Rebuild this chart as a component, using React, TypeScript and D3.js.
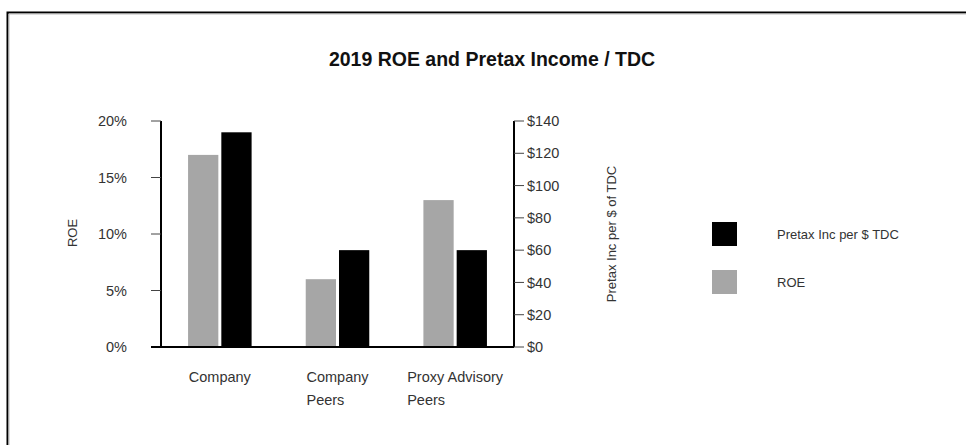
import React, { useEffect, useRef } from "react";
import * as d3 from "d3";

const categories = ["Company", "Company\nPeers", "Proxy Advisory\nPeers"];
const roeValues = [0.17, 0.06, 0.13];
const pretaxValues = [133, 60, 60];
const roeTicks = [0, 0.05, 0.1, 0.15, 0.2];
const pretaxTicks = [0, 20, 40, 60, 80, 100, 120, 140];
const legendItems = [
  { label: "Pretax Inc per $ TDC", color: "#000000" },
  { label: "ROE", color: "#a6a6a6" },
];

const W = 966;
const H = 445;
const FONT = "'Liberation Sans Narrow', 'Arial Narrow', 'Liberation Sans', Arial, sans-serif";

export default function App() {
  const ref = useRef<SVGSVGElement | null>(null);

  useEffect(() => {
    const svg = d3.select(ref.current);
    svg.selectAll("*").remove();

    const left = 161, right = 514, top = 121, bottom = 347;

    // frame
    svg.append("path")
      .attr("d", `M${W + 5},12.5 H7.5 V${H + 5}`)
      .attr("fill", "none").attr("stroke", "#000").attr("stroke-width", 2);
    svg.append("path")
      .attr("d", `M${W + 5},14 H9 V${H + 5}`)
      .attr("fill", "none").attr("stroke", "#bbb").attr("stroke-width", 1);

    svg.append("text")
      .attr("x", 492).attr("y", 66)
      .attr("text-anchor", "middle")
      .attr("font-family", FONT).attr("font-weight", "bold").attr("font-size", 19.5)
      .attr("fill", "#111")
      .text("2019 ROE and Pretax Income / TDC");

    const x0 = d3.scaleBand<string>().domain(categories).range([left, right]).paddingInner(0.46).paddingOuter(0.23);
    const x1 = d3.scaleBand<string>().domain(["roe", "pretax"]).range([0, x0.bandwidth()]).paddingInner(0.09);
    const yL = d3.scaleLinear().domain([0, 0.2]).range([bottom, top]);
    const yR = d3.scaleLinear().domain([0, 140]).range([bottom, top]);

    const g = svg.append("g");
    categories.forEach((c, i) => {
      g.append("rect")
        .attr("x", x0(c)! + x1("roe")!).attr("width", x1.bandwidth())
        .attr("y", yL(roeValues[i])).attr("height", bottom - yL(roeValues[i]))
        .attr("fill", "#a6a6a6");
      g.append("rect")
        .attr("x", x0(c)! + x1("pretax")!).attr("width", x1.bandwidth())
        .attr("y", yR(pretaxValues[i])).attr("height", bottom - yR(pretaxValues[i]))
        .attr("fill", "#000");
    });

    // left axis
    const la = svg.append("g");
    la.append("line").attr("x1", left).attr("x2", left).attr("y1", top).attr("y2", bottom)
      .attr("stroke", "#000").attr("stroke-width", 2);
    roeTicks.forEach((t) => {
      la.append("line").attr("x1", left - 10).attr("x2", left).attr("y1", yL(t)).attr("y2", yL(t))
        .attr("stroke", "#444").attr("stroke-width", 1);
      la.append("text").attr("x", 127).attr("y", yL(t)).attr("dy", "0.35em")
        .attr("text-anchor", "end").attr("font-family", FONT).attr("font-size", 14.5).attr("fill", "#333")
        .text(d3.format(".0%")(t));
    });
    // right axis
    const ra = svg.append("g");
    ra.append("line").attr("x1", right).attr("x2", right).attr("y1", top).attr("y2", bottom)
      .attr("stroke", "#000").attr("stroke-width", 2);
    pretaxTicks.forEach((t) => {
      ra.append("line").attr("x1", right).attr("x2", right + 10).attr("y1", yR(t)).attr("y2", yR(t))
        .attr("stroke", "#444").attr("stroke-width", 1);
      ra.append("text").attr("x", 527).attr("y", yR(t)).attr("dy", "0.35em")
        .attr("text-anchor", "start").attr("font-family", FONT).attr("font-size", 14.5).attr("fill", "#333")
        .text("$" + t);
    });
    // baseline
    svg.append("line").attr("x1", left - 10).attr("x2", right).attr("y1", bottom).attr("y2", bottom)
      .attr("stroke", "#000").attr("stroke-width", 2);

    // category labels
    categories.forEach((c) => {
      const cx = x0(c)! + x0.bandwidth() / 2;
      const lines = c.split("\n");
      const t1 = svg.append("text").attr("x", cx).attr("y", 382)
        .attr("text-anchor", "middle").attr("font-family", FONT).attr("font-size", 14.5).attr("fill", "#333")
        .text(lines[0]);
      if (lines[1]) {
        const w = (t1.node() as SVGTextElement).getComputedTextLength();
        svg.append("text").attr("x", cx - w / 2).attr("y", 405)
          .attr("text-anchor", "start").attr("font-family", FONT).attr("font-size", 14.5).attr("fill", "#333")
          .text(lines[1]);
      }
    });

    // axis titles
    svg.append("text").attr("transform", `translate(77,233) rotate(-90)`)
      .attr("text-anchor", "middle").attr("font-family", FONT).attr("font-size", 13).attr("fill", "#333")
      .text("ROE");
    svg.append("text").attr("transform", `translate(616,234) rotate(-90)`)
      .attr("text-anchor", "middle").attr("font-family", FONT).attr("font-size", 13).attr("fill", "#333")
      .text("Pretax Inc per $ of TDC");

    // legend
    legendItems.forEach((d, i) => {
      const y = 222 + i * 48;
      svg.append("rect").attr("x", 712).attr("y", y).attr("width", 25).attr("height", 24)
        .attr("fill", d.color);
      svg.append("text").attr("x", 777).attr("y", y + 12).attr("dy", "0.35em")
        .attr("font-family", FONT).attr("font-size", 13).attr("fill", "#333")
        .text(d.label);
    });
  }, []);

  return (
    <svg ref={ref} width={W} height={H}
      style={{ position: "fixed", left: 0, top: 0, background: "#fff" }} />
  );
}
